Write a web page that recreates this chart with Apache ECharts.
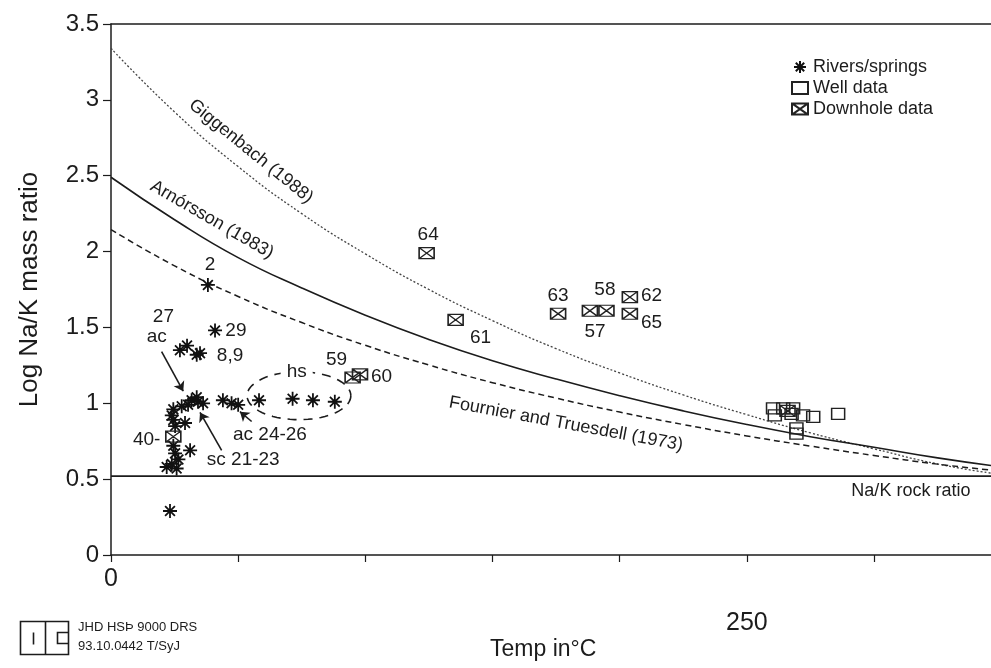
<!DOCTYPE html>
<html><head><meta charset="utf-8">
<script src="https://cdn.jsdelivr.net/npm/echarts@6/dist/echarts.min.js"></script>
<style>html,body{margin:0;padding:0;background:#fff}#c{width:991px;height:668px}</style>
</head><body><div id="c"></div>
<script>
// ---- data ----
const temps      = [0,25,50,75,100,125,150,175,200,225,250,275,300,325,346];
const giggenbach = [3.34,2.92,2.56,2.25,1.985,1.75,1.545,1.36,1.20,1.055,0.925,0.805,0.70,0.60,0.54];
const arnorsson  = [2.49,2.21,1.96,1.76,1.58,1.42,1.28,1.16,1.05,0.95,0.86,0.78,0.71,0.64,0.59];
const fournier   = [2.145,1.906,1.704,1.532,1.382,1.252,1.136,1.034,0.942,0.860,0.785,0.718,0.656,0.599,0.56];
const rockRatio  = 0.52;

const riversT = [38.1,40.9,27.1,29.9,33.7,35.0,34.2,31.7,36.2,33.7,27.8,30.3,24.5,44.0,47.4,50.0,58.2,71.4,79.4,88.0,23.9,24.5,25.2,29.1,31.1,25.2,26.5,21.9,25.8,23.9,24.5,23.2];
const riversY = [1.78,1.48,1.35,1.38,1.32,1.33,1.01,1.02,1.00,1.04,0.98,0.99,0.96,1.02,1.00,0.99,1.02,1.03,1.02,1.01,0.92,0.89,0.85,0.87,0.69,0.67,0.63,0.58,0.57,0.60,0.72,0.29];
const wellT = [260.3,264.3,268.2,261.0,267.6,272.1,276.1,285.9,269.5,269.5];
const wellY = [0.967,0.967,0.967,0.92,0.93,0.92,0.91,0.93,0.835,0.80];
const downT = [124.1,135.5,175.8,188.3,194.8,204.0,204.0,95.0,97.9,24.5,266.0];
const downY = [1.99,1.55,1.59,1.61,1.61,1.70,1.59,1.17,1.19,0.78,0.95];

const yTicks = [0,0.5,1,1.5,2,2.5,3,3.5];
const xLabelled = [0,250];

// annotation text (data coords)
const ptLabelText = ['2','29','27','ac','8,9','hs','59','60','ac 24-26','sc 21-23','40-','64','61','63','58','57','62','65'];
const ptLabelT    = [38.9,49.1,20.6,18.0,46.8,73.0,88.7,106.4,62.5,52.0,14.0,124.7,145.3,175.8,194.2,190.3,212.5,212.5];
const ptLabelY    = [1.91,1.48,1.57,1.44,1.31,1.21,1.285,1.175,0.79,0.63,0.76,2.11,1.43,1.71,1.75,1.47,1.71,1.53];
const curveLabelText = ['Giggenbach (1988)','Arnórsson (1983)','Fournier and Truesdell (1973)','Na/K rock ratio'];
const curveLabelT    = [55.0,39.7,178.9,314.5];
const curveLabelY    = [2.66,2.21,0.864,0.42];
const curveLabelRot  = [-39,-30,-10.5,0];
const arrows = [[[19.9,1.34],[28.4,1.08]],[[43.5,0.69],[35.0,0.94]],[[55.3,0.88],[50.7,0.945]]];
const hsEllipse = {cx:73.9, cy:1.05, rx:20.4, ry:0.158};

// ---- chart ----
const FONT = 'Liberation Sans, Arial, sans-serif';
const INK = '#1c1c1c';
const starPath = 'path://M0,-10L0,10M-10,0L10,0M-7,-7L7,7M-7,7L7,-7';
const boxXPath = 'path://M-10,-7L10,-7L10,7L-10,7ZM-10,-7L10,7M-10,7L10,-7';
const zip = (a,b)=>a.map((v,i)=>[v,b[i]]);

const chart = echarts.init(document.getElementById('c'));
const option = {
  backgroundColor:'#fff',
  animation:false,
  textStyle:{fontFamily:FONT,color:INK},
  grid:{left:111,right:0,top:24,bottom:113},
  legend:{
    orient:'vertical', left:786, top:53, itemGap:3, itemWidth:16, itemHeight:12,
    textStyle:{fontFamily:FONT,fontSize:18,color:INK},
    data:['Rivers/springs','Well data','Downhole data']
  },
  xAxis:[{
    type:'value', min:0, max:346, interval:50,
    axisLine:{lineStyle:{color:INK,width:1.5}},
    axisTick:{show:true,length:7,lineStyle:{color:INK,width:1.2}},
    splitLine:{show:false},
    axisLabel:{margin:12,fontSize:25,color:INK,fontFamily:FONT,showMaxLabel:false,
      formatter:v=>xLabelled.indexOf(v)<0?'':(v===0?String(v):'{b|'+v+'}'),
      rich:{b:{fontSize:25,color:INK,fontFamily:FONT,padding:[44,0,0,0]}}}
  },{
    type:'value', position:'top', min:0, max:346,
    axisLine:{show:true,onZero:false,lineStyle:{color:INK,width:1.5}},
    axisTick:{show:false}, axisLabel:{show:false}, splitLine:{show:false}
  }],
  yAxis:{
    type:'value', min:yTicks[0], max:yTicks[yTicks.length-1], interval:0.5,
    name:'Log Na/K mass ratio', nameLocation:'middle', nameGap:68,
    nameTextStyle:{fontSize:26,color:INK,fontFamily:FONT},
    axisLine:{show:true,lineStyle:{color:INK,width:1.5}},
    axisTick:{show:true,length:8,lineStyle:{color:INK,width:1.2}},
    splitLine:{show:false},
    axisLabel:{margin:12,fontSize:24,color:INK,fontFamily:FONT}
  },
  series:[
    {name:'Giggenbach', type:'line', smooth:true, showSymbol:false, data:zip(temps,giggenbach),
     lineStyle:{color:'#444',width:1.3,type:[2,2]}, z:2},
    {name:'Arnorsson', type:'line', smooth:true, showSymbol:false, data:zip(temps,arnorsson),
     lineStyle:{color:INK,width:1.6}, z:2},
    {name:'Fournier', type:'line', smooth:true, showSymbol:false, data:zip(temps,fournier),
     lineStyle:{color:INK,width:1.5,type:[6,4]}, z:2},
    {name:'Rock', type:'line', showSymbol:false, data:[[0,rockRatio],[346,rockRatio]],
     lineStyle:{color:INK,width:1.8}, z:2},
    {name:'Rivers/springs', type:'scatter', symbol:starPath, symbolSize:14, data:zip(riversT,riversY),
     itemStyle:{color:'none',borderColor:'#111',borderWidth:1.8,opacity:1}, z:5},
    {name:'Well data', type:'scatter', symbol:'rect', symbolSize:[13,11], data:zip(wellT,wellY),
     itemStyle:{color:'rgba(255,255,255,0)',borderColor:'#222',borderWidth:1.4,opacity:1}, z:5},
    {name:'Downhole data', type:'scatter', symbol:boxXPath, symbolSize:[15,11], data:zip(downT,downY),
     itemStyle:{color:'rgba(255,255,255,0)',borderColor:'#222',borderWidth:1.4,opacity:1}, z:5},
    {name:'pointLabels', type:'scatter', symbolSize:0, silent:true, z:6, itemStyle:{opacity:1},
     data:ptLabelText.map((t,i)=>({name:t,value:[ptLabelT[i],ptLabelY[i]],
       label:t==='hs'?{backgroundColor:'#fff',padding:[0,6]}:{}})),
     label:{show:true,position:'inside',formatter:p=>p.name,fontSize:19,color:INK,fontFamily:FONT,opacity:1}},
    {name:'curveLabels', type:'scatter', symbolSize:0, silent:true, z:6, itemStyle:{opacity:1},
     data:curveLabelText.map((t,i)=>({name:t,value:[curveLabelT[i],curveLabelY[i]],
       label:{rotate:curveLabelRot[i],fontSize:18}})),
     label:{show:true,position:'inside',formatter:p=>p.name,color:INK,fontFamily:FONT,opacity:1}},
    {name:'arrows', type:'lines', coordinateSystem:'cartesian2d', silent:true, z:4,
     symbol:['none','arrow'], symbolSize:9,
     lineStyle:{color:INK,width:1.6,opacity:1},
     data:arrows.map(a=>({coords:a}))},
    {name:'hsEllipse', type:'custom', silent:true, z:3, data:[[hsEllipse.cx,hsEllipse.cy]],
     renderItem:(params,api)=>{
       const c = api.coord([hsEllipse.cx,hsEllipse.cy]);
       const s = api.size([hsEllipse.rx,hsEllipse.ry]);
       const pts=[];
       for(let k=0;k<=72;k++){const a=k/72*Math.PI*2;pts.push([c[0]+s[0]*Math.cos(a),c[1]+s[1]*Math.sin(a)]);}
       return {type:'polyline',shape:{points:pts},style:{fill:null,stroke:INK,lineWidth:1.6,lineDash:[9,7]}};
     }}
  ],
  graphic:[
    {type:'text',left:490,top:638,style:{text:'Temp in°C',fontSize:23,fill:INK,fontFamily:FONT}},
    {type:'group',left:18,top:619,children:[
      {type:'rect',shape:{x:0,y:0,width:48,height:33},style:{fill:'none',stroke:INK,lineWidth:1.6}},
      {type:'line',shape:{x1:25,y1:0,x2:25,y2:33},style:{stroke:INK,lineWidth:1.6}},
      {type:'line',shape:{x1:13,y1:11,x2:13,y2:23},style:{stroke:INK,lineWidth:1.6}},
      {type:'polyline',shape:{points:[[48,11],[37,11],[37,22],[48,22]]},style:{fill:'none',stroke:INK,lineWidth:1.6}}
    ]},
    {type:'text',left:78,top:621,style:{text:'JHD HSÞ 9000 DRS',fontSize:13,fill:INK,fontFamily:'Liberation Sans Narrow, Liberation Sans, Arial'}},
    {type:'text',left:78,top:640,style:{text:'93.10.0442 T/SyJ',fontSize:13,fill:INK,fontFamily:'Liberation Sans Narrow, Liberation Sans, Arial'}}
  ]
};
chart.setOption(option);
</script></body></html>
